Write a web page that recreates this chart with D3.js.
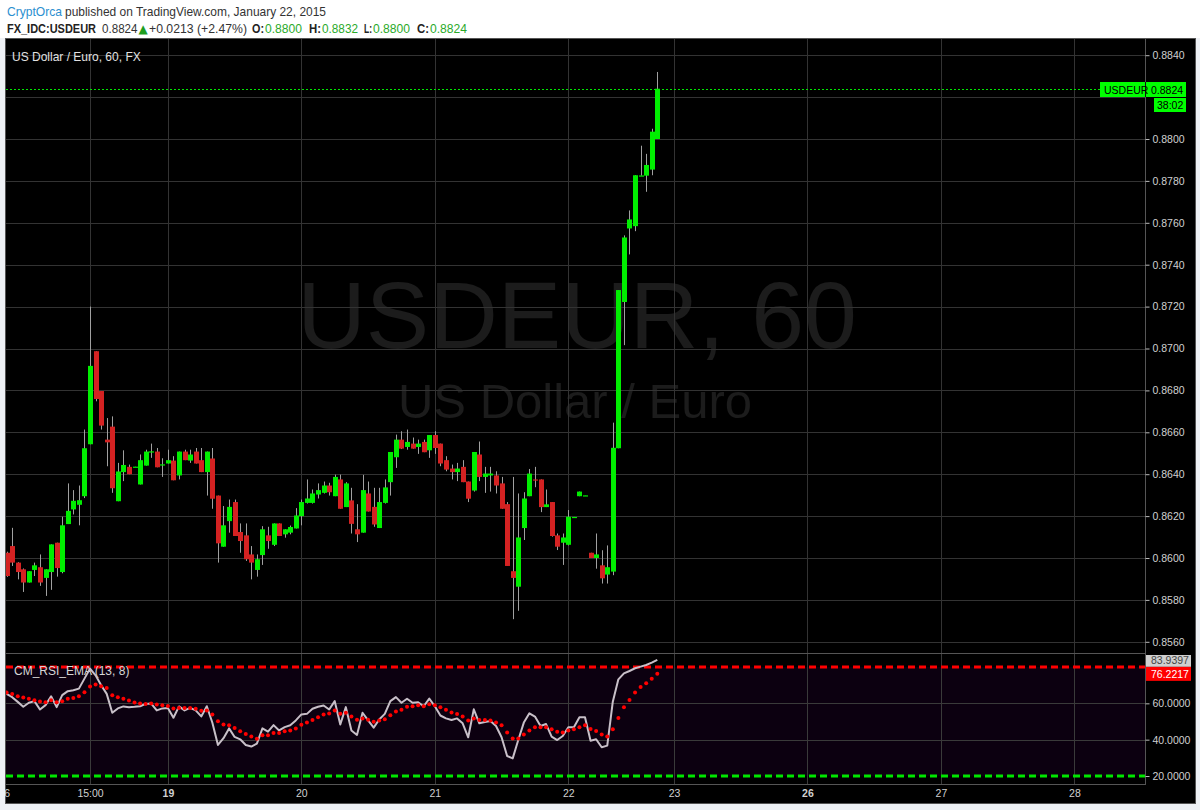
<!DOCTYPE html>
<html><head><meta charset="utf-8">
<script src="https://cdnjs.cloudflare.com/ajax/libs/d3/7.8.5/d3.min.js"></script>
<style>
body{margin:0;background:#eef1f5;}
svg{display:block;font-family:"Liberation Sans",Arial,sans-serif;}
</style></head><body>
<script>
// hourly USDEUR bars, index 0..117
var opens = [0.86025,0.86057,0.85978,0.85946,0.85883,0.85943,0.85956,0.85905,0.85933,0.86073,
0.85933,0.86162,0.86232,0.86254,0.86295,0.86543,0.86987,0.86797,0.86565,0.86627,
0.86271,0.8641,0.86435,0.86435,0.86351,0.86441,0.86508,0.86508,0.86446,0.86451,
0.86465,0.86394,0.86508,0.86465,0.86508,0.86467,0.8641,0.86475,0.86298,0.86054,
0.86176,0.86267,0.86124,0.86108,0.86017,0.85943,0.86014,0.86108,0.86063,0.86165,
0.86113,0.86121,0.86141,0.862,0.86263,0.86263,0.86303,0.86311,0.86346,0.86295,
0.86375,0.86243,0.86275,0.86137,0.86121,0.86308,0.86244,0.86143,0.86263,0.86362,
0.86481,0.86565,0.8653,0.86546,0.8653,0.86554,0.86514,0.86587,0.86546,0.86467,
0.86427,0.8641,0.86435,0.86365,0.86322,0.86494,0.86387,0.86394,0.86394,0.86356,
0.86257,0.85937,0.85863,0.86143,0.86295,0.86375,0.86375,0.86243,0.86267,0.86108,
0.86073,0.86063,0.86195,0.86295,0.86298,0.86025,0.86,0.85965,0.85921,0.85935,
0.86524,0.87222,0.87573,0.87584,0.87825,0.87825,0.87854,0.88];
var highs = [0.8603,0.86144,0.8598,0.8595,0.85937,0.85978,0.86017,0.85946,0.86065,0.86073,
0.86197,0.86356,0.86324,0.86346,0.86613,0.872,0.86987,0.86797,0.86668,0.86676,
0.86454,0.86514,0.86446,0.86436,0.86494,0.86517,0.86546,0.86525,0.86476,0.86517,
0.86486,0.86508,0.86517,0.86517,0.86525,0.86525,0.86508,0.86525,0.86298,0.86248,
0.86279,0.86279,0.86165,0.86165,0.86057,0.86017,0.86152,0.86149,0.86165,0.86165,
0.86137,0.86155,0.86238,0.86279,0.86375,0.86327,0.86356,0.86365,0.86359,0.86398,
0.86398,0.86362,0.86335,0.86257,0.86397,0.86365,0.86335,0.86335,0.86375,0.86506,
0.86589,0.86605,0.86613,0.86575,0.86565,0.86565,0.86587,0.86605,0.86546,0.86486,
0.86446,0.86454,0.86467,0.86365,0.86506,0.86556,0.86435,0.86435,0.86414,0.86387,
0.86267,0.86387,0.86308,0.86314,0.86425,0.86435,0.86375,0.86327,0.86267,0.86117,
0.86117,0.86229,0.86196,0.86317,0.86299,0.86025,0.86117,0.86037,0.8606,0.86646,
0.87279,0.8754,0.87659,0.87827,0.87968,0.87929,0.88049,0.8832];
var lows = [0.8591,0.85962,0.85898,0.85838,0.85883,0.85914,0.85867,0.85819,0.85848,0.85911,
0.85927,0.86162,0.86208,0.86156,0.86286,0.86543,0.86748,0.86613,0.86438,0.86311,
0.86271,0.86367,0.864,0.86435,0.86351,0.86441,0.86478,0.86433,0.86387,0.86451,
0.86371,0.86375,0.86467,0.86454,0.86451,0.8641,0.86298,0.86235,0.85978,0.86054,
0.86121,0.86105,0.86025,0.85986,0.85898,0.85911,0.85967,0.86044,0.86057,0.86105,
0.86097,0.86113,0.86141,0.86156,0.8626,0.8626,0.86284,0.86308,0.86298,0.86295,
0.86235,0.86243,0.86117,0.86076,0.86121,0.86222,0.86149,0.86143,0.8626,0.86298,
0.8643,0.8652,0.86517,0.86522,0.86497,0.86505,0.86478,0.86497,0.86438,0.86414,
0.86375,0.86367,0.86362,0.86267,0.86317,0.86367,0.86311,0.86317,0.86308,0.86235,
0.85962,0.85708,0.85748,0.86086,0.86295,0.86338,0.86219,0.86243,0.86102,0.86038,
0.85967,0.8606,0.86195,0.86295,0.86298,0.86,0.85949,0.85878,0.85878,0.85918,
0.86524,0.87016,0.87449,0.8756,0.87825,0.87748,0.87827,0.88];
var closes = [0.85914,0.85978,0.85933,0.85883,0.85937,0.85965,0.85883,0.85946,0.86065,0.85952,
0.86156,0.86225,0.86273,0.86276,0.86524,0.86917,0.86759,0.86632,0.86552,0.86333,
0.86413,0.86444,0.864,0.86436,0.86467,0.86508,0.86509,0.86433,0.86447,0.86467,
0.86371,0.86508,0.86467,0.86494,0.86451,0.8641,0.86508,0.86283,0.8607,0.86156,
0.86244,0.86105,0.86081,0.85994,0.85978,0.85994,0.86137,0.86081,0.86165,0.86105,
0.86137,0.86148,0.86203,0.86267,0.86284,0.86308,0.86324,0.86346,0.86314,0.86387,
0.86235,0.86356,0.86163,0.86113,0.86324,0.86222,0.8616,0.86267,0.86337,0.86506,
0.86565,0.86522,0.86554,0.86522,0.86546,0.86505,0.86587,0.86525,0.86451,0.86422,
0.8641,0.86427,0.86362,0.86283,0.86506,0.86387,0.86403,0.86403,0.86346,0.86235,
0.85962,0.85905,0.86098,0.86284,0.86403,0.8637,0.86243,0.86256,0.86105,0.86054,
0.86098,0.86197,0.86196,0.86317,0.86299,0.86,0.86017,0.85903,0.85956,0.86526,
0.87279,0.8753,0.87616,0.87827,0.87826,0.87876,0.88035,0.8824];

// CM_RSI_EMA (13, 8): rsi line and its ema (dots)
var rsi = [65.2,63.4,60.8,58.1,60.3,61.2,56.6,59,63.9,57.9,
64.5,66.7,67.2,68.1,73.6,79.1,75.4,70,65.2,54.8,
57.2,58.3,57.9,58.1,58.4,59.7,59.9,56.1,57.2,57.4,
52.1,58.3,56.1,57.5,56.1,52.8,58.4,49.3,37.1,40.8,
46.2,41.5,40.2,37.1,36.2,37.8,46.2,44.4,48,45.1,
46.9,47.9,50.6,53.9,54.2,57,58.1,58.8,56.6,61.2,
48.4,57.9,45.1,42.6,54.8,50.6,46.6,51.1,54.2,61.2,
63.4,60.3,62.5,60.3,60.6,58.4,62.6,58.4,53.3,51.7,
50.8,51.7,49,41.3,56.7,49,49.7,50.3,47.5,41.3,
31,29.7,39.8,49.4,54.5,52.7,47.5,48.6,41.7,39.8,
42,46.8,46.8,52.3,52.3,39.4,40.2,35.8,36.7,60.9,
73.2,76.5,77.8,79.3,80.2,81.1,82.4,83.9397];
var rsiEma = [66,65.2,63.9,63.2,62.5,61.7,61,60.6,61.7,60.6,
61.2,62.5,63,63.9,66.1,69.2,70.3,69.4,68.5,64.5,
63.4,62.5,61.6,60.5,59.9,59.7,59.9,59.4,59,58.6,
57.2,57.5,57.5,57.5,57,55.9,56.1,53.9,50.2,48.4,
47.9,46.4,44.7,43.1,41.8,40.5,42.4,42.4,43.7,43.7,
44.6,45.1,46.2,48.2,49.5,50.8,52.4,53.9,54.4,56.1,
54.2,54.8,52.8,51,51.7,51,49.9,50.6,51.3,53.5,
55.5,56.4,58.1,58.4,59,58.4,59.5,59,57.9,56.5,
55,54.1,52.7,50.5,51.6,50.8,50.8,50.5,49.5,47.9,
43.9,40.7,40.7,42.8,45,46.8,46.8,46.8,45.7,44.4,
43.9,45,45.7,46.8,47.9,45.9,44.8,42.8,41.7,45.7,
51.9,57.8,61.8,65.9,69,71,73.6,76.2217];

var priceTicks = [0.856,0.858,0.860,0.862,0.864,0.866,0.868,0.870,0.872,0.874,0.876,0.878,0.880,0.882,0.884];
var rsiTicks = [20,40,60];
var timeTickIdx = [-0.5,15,29,53,77,101,120,144,168,192];
var timeTickLabels = ["16","15:00","19","20","21","22","23","26","27","28"];
var boldLabels = ["19","26"];
var lastPrice = 0.8824;

var W = 1200, H = 810;
var svg = d3.select("body").append("svg").attr("width", W).attr("height", H);

var x = d3.scaleLinear().domain([0,117]).range([6.6,657.3]),
	y = d3.scaleLinear().domain([0.856,0.884]).range([641.8,55.2]),
	yr = d3.scaleLinear().domain([20,80]).range([776,667]);

var padL = 6, padR = 1146, paneTop = 39, paneSep = 653, paneBot = 784;

// page + header
svg.append("rect").attr("width",W).attr("height",H).attr("fill","#eef1f5");
svg.append("rect").attr("width",W).attr("height",38).attr("fill","#ffffff");
svg.append("rect").attr("x",5.5).attr("y",38.5).attr("width",1190).attr("height",765)
	.attr("fill","#000").attr("stroke","#555");

function htext(str, xx, yy, size, color, len, bold){
	svg.append("text").attr("x",xx).attr("y",yy)
		.attr("font-size",size).attr("fill",color)
		.attr("font-weight", bold ? "bold" : "normal")
		.attr("textLength",len).attr("lengthAdjust","spacingAndGlyphs")
		.text(str);
}
htext("CryptOrca",7,16,13.5,"#2b8fd0",55);
htext("published on TradingView.com, January 22, 2015",65,16,13.5,"#333",261);
htext("FX_IDC:USDEUR",7,32.5,12,"#222",89,true);
htext("0.8824",102,32.5,12,"#333",35.5);
svg.append("text").attr("x",138.5).attr("y",32.5).attr("font-size",12)
	.attr("font-family","DejaVu Sans").attr("fill","#1f9e1f").text("▲");
htext("+0.0213 (+2.47%)",149,32.5,12,"#333",98);
htext("O:",252,32.5,12,"#222",12,true);
htext("0.8800",265,32.5,12,"#2aaa2a",37);
htext("H:",309,32.5,12,"#222",12,true);
htext("0.8832",322,32.5,12,"#2aaa2a",36);
htext("L:",364,32.5,12,"#222",8,true);
htext("0.8800",373,32.5,12,"#2aaa2a",37);
htext("C:",417,32.5,12,"#222",12,true);
htext("0.8824",430,32.5,12,"#2aaa2a",37);

// clips
var defs = svg.append("defs");
defs.append("clipPath").attr("id","mainClip").append("rect")
	.attr("x",padL).attr("y",paneTop).attr("width",padR-padL).attr("height",paneSep-paneTop);
defs.append("clipPath").attr("id","rsiClip").append("rect")
	.attr("x",padL).attr("y",paneSep+1).attr("width",padR-padL).attr("height",paneBot-paneSep-1);

var main = svg.append("g").attr("clip-path","url(#mainClip)");
var pane = svg.append("g").attr("clip-path","url(#rsiClip)");

// watermark
main.append("text").attr("x",577).attr("y",348).attr("text-anchor","middle")
	.attr("font-size",95).attr("fill","#1c1c1c").text("USDEUR, 60");
main.append("text").attr("x",575).attr("y",418).attr("text-anchor","middle")
	.attr("font-size",49).attr("fill","#1c1c1c").text("US Dollar / Euro");

// grid
main.append("g").selectAll("line").data(priceTicks).enter().append("line")
	.attr("x1",padL).attr("x2",padR)
	.attr("y1",function(d){return Math.round(y(d))+0.5;})
	.attr("y2",function(d){return Math.round(y(d))+0.5;})
	.attr("stroke","#333");
main.append("g").selectAll("line").data(timeTickIdx.slice(1)).enter().append("line")
	.attr("x1",function(d){return Math.round(x(d))+0.5;})
	.attr("x2",function(d){return Math.round(x(d))+0.5;})
	.attr("y1",paneTop).attr("y2",paneSep).attr("stroke","#333");

main.append("text").attr("x",12).attr("y",61).attr("font-size",12)
	.attr("fill","#e2e2e2").text("US Dollar / Euro, 60, FX");

// last price line
main.append("line").attr("x1",padL).attr("x2",padR)
	.attr("y1",Math.round(y(lastPrice))+0.5).attr("y2",Math.round(y(lastPrice))+0.5)
	.attr("stroke","#00e600").attr("stroke-dasharray","2,2");

// candles
var idx = d3.range(opens.length);
main.append("g").selectAll("line").data(idx).enter().append("line")
	.attr("x1",function(i){return Math.round(x(i))+0.5;})
	.attr("x2",function(i){return Math.round(x(i))+0.5;})
	.attr("y1",function(i){return y(highs[i]);})
	.attr("y2",function(i){return y(lows[i]);})
	.attr("stroke","#a0a0a0");
main.append("g").selectAll("rect").data(idx).enter().append("rect")
	.attr("x",function(i){return Math.round(x(i))-2;})
	.attr("width",5)
	.attr("y",function(i){return y(Math.max(opens[i],closes[i]));})
	.attr("height",function(i){return Math.max(1.2,Math.abs(y(opens[i])-y(closes[i])));})
	.attr("fill",function(i){return closes[i]>=opens[i] ? "#00ee00" : "#d42222";});

// rsi pane
svg.append("line").attr("x1",padL).attr("x2",padR).attr("y1",paneSep+0.5).attr("y2",paneSep+0.5).attr("stroke","#555");
pane.append("rect").attr("x",padL).attr("width",padR-padL)
	.attr("y",yr(80)).attr("height",yr(20)-yr(80)).attr("fill","#0c0010");
pane.append("g").selectAll("line").data([40,60]).enter().append("line")
	.attr("x1",padL).attr("x2",padR)
	.attr("y1",function(d){return Math.round(yr(d))+0.5;})
	.attr("y2",function(d){return Math.round(yr(d))+0.5;})
	.attr("stroke","#3a3a3a");
pane.append("g").selectAll("line").data(timeTickIdx.slice(1)).enter().append("line")
	.attr("x1",function(d){return Math.round(x(d))+0.5;})
	.attr("x2",function(d){return Math.round(x(d))+0.5;})
	.attr("y1",paneSep).attr("y2",paneBot).attr("stroke","#3a3a3a");
pane.append("line").attr("x1",padL).attr("x2",padR).attr("y1",yr(80)).attr("y2",yr(80))
	.attr("stroke","#ff0000").attr("stroke-width",3).attr("stroke-dasharray","7,4");
pane.append("line").attr("x1",padL).attr("x2",padR).attr("y1",yr(20)).attr("y2",yr(20))
	.attr("stroke","#00e600").attr("stroke-width",3).attr("stroke-dasharray","7,4");

pane.append("text").attr("x",14).attr("y",675).attr("font-size",12)
	.attr("fill","#d6d6d6").text("CM_RSI_EMA (13, 8)");

pane.append("path").datum(rsi)
	.attr("d",d3.line().x(function(d,i){return x(i);}).y(function(d){return yr(d);}))
	.attr("fill","none").attr("stroke","#c8bfc8").attr("stroke-width",2).attr("stroke-linejoin","round");
pane.append("g").selectAll("circle").data(rsiEma).enter().append("circle")
	.attr("cx",function(d,i){return x(i);}).attr("cy",function(d){return yr(d);})
	.attr("r",2).attr("fill","#ff0000");

svg.append("line").attr("x1",padL).attr("x2",padR).attr("y1",paneBot+0.5).attr("y2",paneBot+0.5).attr("stroke","#555");
svg.append("line").attr("x1",padR-0.5).attr("x2",padR-0.5).attr("y1",paneTop).attr("y2",paneBot).attr("stroke","#555");

// axes (0.8820 label sits under the last-price box in the original, so it is left out)
var pAxis = svg.append("g").attr("transform","translate("+(padR-0.5)+",0)")
	.call(d3.axisRight(y).tickValues(priceTicks.filter(function(d){return d!==0.882;}))
		.tickSize(4).tickPadding(3).tickFormat(d3.format(".4f")));
var rAxis = svg.append("g").attr("transform","translate("+(padR-0.5)+",0)")
	.call(d3.axisRight(yr).tickValues(rsiTicks).tickSize(4).tickPadding(3).tickFormat(d3.format(".4f")));
var tAxis = svg.append("g").attr("transform","translate(0,"+paneBot+")")
	.call(d3.axisBottom(x).tickValues(timeTickIdx).tickSize(0).tickPadding(5.5)
		.tickFormat(function(d,i){return timeTickLabels[i];}));
[pAxis,rAxis,tAxis].forEach(function(a){
	a.select(".domain").remove();
	a.selectAll("line").attr("stroke","#bbb");
	a.selectAll("text").attr("fill","#d0d0d0").attr("font-size",10.5)
		.attr("font-family","'Liberation Sans',Arial,sans-serif");
});
tAxis.selectAll("text").attr("font-weight",function(d,i){return boldLabels.indexOf(timeTickLabels[i])>=0 ? "bold" : "normal";});

// price / value labels on scale
var ly = Math.round(y(lastPrice));
svg.append("rect").attr("x",1100).attr("y",ly-7).attr("width",86).attr("height",15).attr("fill","#00ff00");
svg.append("line").attr("x1",padR-0.5).attr("x2",padR-0.5).attr("y1",ly-7).attr("y2",ly+8).attr("stroke","#111");
svg.append("text").attr("x",1104).attr("y",ly+4.5).attr("font-size",10.5).attr("fill","#000").text("USDEUR");
svg.append("text").attr("x",1151).attr("y",ly+4.5).attr("font-size",10.5).attr("fill","#000").text("0.8824");
svg.append("rect").attr("x",1154).attr("y",ly+9).attr("width",32).attr("height",14).attr("fill","#00ff00");
svg.append("text").attr("x",1157).attr("y",ly+20).attr("font-size",10.5).attr("fill","#000").text("38:02");

var ry1 = yr(rsi[rsi.length-1]), ry2 = yr(rsiEma[rsiEma.length-1]);
var gTop = Math.max(paneSep+2, ry1-7);
svg.append("rect").attr("x",padR).attr("y",gTop).attr("width",45).attr("height",ry2-7-gTop).attr("fill","#cfcfcf");
svg.append("text").attr("x",1151).attr("y",ry1+4).attr("font-size",10.5).attr("fill","#444").text(d3.format(".4f")(rsi[rsi.length-1]));
svg.append("rect").attr("x",padR).attr("y",ry2-7).attr("width",45).attr("height",14).attr("fill","#ff0000");
svg.append("text").attr("x",1151).attr("y",ry2+4).attr("font-size",10.5).attr("fill","#fff").text(d3.format(".4f")(rsiEma[rsiEma.length-1]));

// outer strips
svg.append("rect").attr("x",0).attr("y",38).attr("width",5).attr("height",H-38).attr("fill","#eef1f5");
svg.append("rect").attr("x",1196).attr("y",38).attr("width",4).attr("height",H-38).attr("fill","#eef1f5");
svg.append("rect").attr("x",0).attr("y",804).attr("width",W).attr("height",6).attr("fill","#eef1f5");
</script></body></html>
